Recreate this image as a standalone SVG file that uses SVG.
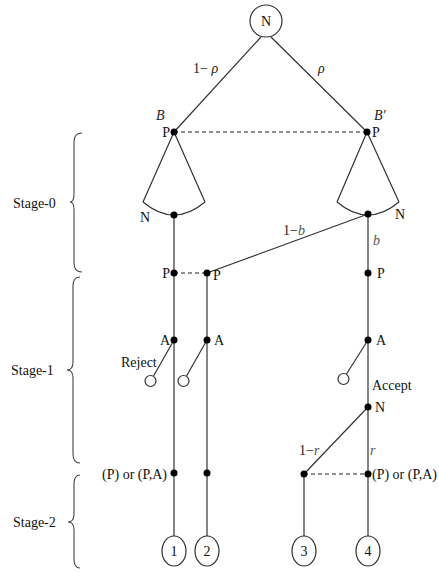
<svg xmlns="http://www.w3.org/2000/svg" width="439" height="572" viewBox="0 0 439 572">
<style>
.ln{stroke:#333;stroke-width:1.2;fill:none}
.dash{stroke:#222;stroke-width:1.2;stroke-dasharray:4,3;fill:none}
.dot{fill:#000}
.oc{fill:#fff;stroke:#333;stroke-width:1.2}
.t{font-family:"Liberation Serif",serif;font-size:14px;fill:#111}
.i{font-family:"Liberation Serif",serif;font-size:14px;font-style:italic;fill:#222}
.ig{font-family:"Liberation Serif",serif;font-size:14px;font-style:italic;fill:#555}
.u{font-style:normal;fill:#222}
.br{stroke:#444;stroke-width:1.1;fill:none}
</style>
<rect width="439" height="572" fill="#fff"/>
<g id="connectors">
<line class="ln" x1="261" y1="37" x2="174" y2="132"/>
<line class="ln" x1="271" y1="37" x2="367" y2="132"/>
<line class="dash" x1="174" y1="132" x2="367" y2="132"/>
<path class="ln" d="M143 202 L174 132 L205 202"/>
<path class="ln" d="M143 202 Q174 228 205 202"/>
<path class="ln" d="M337 202 L367 132 L399 202"/>
<path class="ln" d="M337 202 Q368 228 399 202"/>
<line class="ln" x1="174" y1="215" x2="174" y2="536"/>
<line class="ln" x1="368" y1="214" x2="368" y2="536"/>
<line class="ln" x1="368" y1="214" x2="207" y2="273"/>
<line class="dash" x1="174" y1="273" x2="207" y2="273"/>
<line class="ln" x1="207" y1="273" x2="207" y2="536"/>
<line class="ln" x1="174" y1="340" x2="153.5" y2="376"/>
<line class="ln" x1="207" y1="340" x2="186.5" y2="376"/>
<line class="ln" x1="368" y1="340" x2="346.5" y2="374"/>
<line class="ln" x1="368" y1="407" x2="304" y2="474"/>
<line class="dash" x1="304" y1="474" x2="368" y2="474"/>
<line class="ln" x1="304" y1="474" x2="304" y2="536"/>
</g>
<g id="root"><circle class="oc" cx="266" cy="21" r="16"/><text class="t" x="266" y="26" text-anchor="middle">N</text></g>
<g id="labels-top">
<text class="i" x="193" y="73"><tspan class="u">1− </tspan>ρ</text>
<text class="i" x="318" y="73">ρ</text>
<text class="i" x="156" y="120">B</text>
<text class="i" x="374" y="120">B′</text>
</g>
<g id="pB"><circle class="dot" cx="174" cy="132" r="3.5"/><text class="t" x="170" y="137" text-anchor="end">P</text></g>
<g id="pB2"><circle class="dot" cx="367" cy="132" r="3.5"/><text class="t" x="372" y="137">P</text></g>
<g id="nL"><circle class="dot" cx="174" cy="215" r="3.5"/><text class="t" x="140" y="222">N</text></g>
<g id="nR"><circle class="dot" cx="368" cy="214" r="3.5"/><text class="t" x="395" y="219">N</text>
<text class="ig" x="283" y="235"><tspan class="u">1−</tspan>b</text><text class="ig" x="373" y="245">b</text></g>
<g id="p1"><circle class="dot" cx="174" cy="273" r="3.5"/><text class="t" x="170" y="278" text-anchor="end">P</text></g>
<g id="p2"><circle class="dot" cx="207" cy="273" r="3.5"/><text class="t" x="213" y="280">P</text></g>
<g id="p3"><circle class="dot" cx="368" cy="273" r="3.5"/><text class="t" x="377" y="278">P</text></g>
<g id="a1"><circle class="dot" cx="174" cy="340" r="3.5"/><text class="t" x="170" y="345" text-anchor="end">A</text></g>
<g id="a2"><circle class="dot" cx="207" cy="340" r="3.5"/><text class="t" x="214" y="345">A</text></g>
<g id="a3"><circle class="dot" cx="368" cy="340" r="3.5"/><text class="t" x="376" y="345">A</text></g>
<g id="rej1"><circle class="oc" cx="150.5" cy="381" r="5.5"/><text class="t" x="121" y="367">Reject</text></g>
<g id="rej2"><circle class="oc" cx="183.5" cy="381" r="5.5"/></g>
<g id="rej3"><circle class="oc" cx="343.5" cy="379" r="5.5"/><text class="t" x="372" y="390">Accept</text></g>
<g id="n2"><circle class="dot" cx="368" cy="407" r="3.5"/><text class="t" x="375" y="412">N</text>
<text class="ig" x="299" y="455"><tspan class="u">1−</tspan>r</text><text class="ig" x="370" y="455">r</text></g>
<g id="d1"><circle class="dot" cx="174" cy="473" r="3.5"/><text class="t" x="167" y="479" text-anchor="end">(P) or (P,A)</text></g>
<g id="d2"><circle class="dot" cx="207" cy="473" r="3.5"/></g>
<g id="d3"><circle class="dot" cx="304" cy="474" r="3.5"/></g>
<g id="d4"><circle class="dot" cx="368" cy="474" r="3.5"/><text class="t" x="372" y="479">(P) or (P,A)</text></g>
<g id="o1"><ellipse class="oc" cx="174" cy="551" rx="12" ry="15"/><text class="t" x="174" y="556" text-anchor="middle" font-size="13">1</text></g>
<g id="o2"><ellipse class="oc" cx="207" cy="551" rx="12" ry="15"/><text class="t" x="207" y="556" text-anchor="middle" font-size="13">2</text></g>
<g id="o3"><ellipse class="oc" cx="304" cy="551" rx="12" ry="15"/><text class="t" x="304" y="556" text-anchor="middle" font-size="13">3</text></g>
<g id="o4"><ellipse class="oc" cx="368" cy="551" rx="12" ry="15"/><text class="t" x="368" y="556" text-anchor="middle" font-size="13">4</text></g>
<g id="stages">
<path class="br" d="M82 133 Q74 133 74 142 L74 194 Q74 202 70 202 Q74 202 74 210 L74 263 Q74 272 82 272"/>
<text class="t" x="13" y="208">Stage-0</text>
<path class="br" d="M80 277 Q73 277 73 286 L73 362 Q73 370 67 370 Q73 370 73 378 L73 454 Q73 463 80 463"/>
<text class="t" x="11" y="375">Stage-1</text>
<path class="br" d="M80 475 Q74 475 74 484 L74 514 Q74 522 68 522 Q74 522 74 530 L74 559 Q74 568 80 568"/>
<text class="t" x="13" y="527">Stage-2</text>
</g>
</svg>
